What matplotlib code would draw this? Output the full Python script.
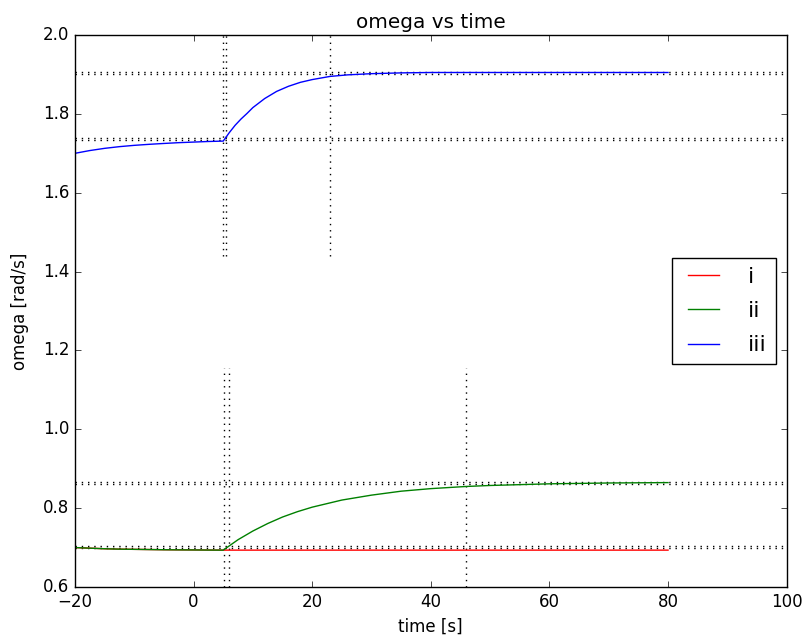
import numpy as np
import matplotlib
matplotlib.use("Agg")
import matplotlib.pyplot as plt

plt.style.use('classic')

# --- data ---
# before the step (i and ii share this part)
t_pre = [-20, -17.5, -15, -12.5, -10, -7.5, -5, -2.5, 0, 2.5, 5]
w_pre_low = [0.700, 0.6985, 0.697, 0.696, 0.6955, 0.695, 0.6945, 0.6942, 0.694, 0.6937, 0.6935]
w_pre_iii = [1.700, 1.707, 1.7126, 1.7169, 1.7202, 1.7228, 1.7250, 1.7270, 1.7285, 1.7300, 1.7310]

# after the step
t_post_i = [5, 80]
w_post_i = [0.6935, 0.6935]

t_post_ii = [5, 7.5, 10, 12.5, 15, 17.5, 20, 25, 30, 35, 40, 46, 50, 60, 70, 80]
w_post_ii = [0.6935, 0.720, 0.742, 0.761, 0.7775, 0.791, 0.8025, 0.8205, 0.833, 0.843,
             0.8495, 0.855, 0.8575, 0.8617, 0.8638, 0.8648]

t_post_iii = [5, 6, 7, 8, 9, 10, 12, 14, 16, 18, 20, 23, 26, 30, 35, 40, 50, 60, 70, 80]
w_post_iii = [1.731, 1.752, 1.771, 1.787, 1.801, 1.816, 1.839, 1.857, 1.870, 1.880,
              1.887, 1.895, 1.899, 1.902, 1.904, 1.905, 1.905, 1.905, 1.905, 1.905]

# reference (dotted) levels and times
h_levels = [1.905, 1.900, 1.739, 1.734, 0.8655, 0.8605, 0.7035, 0.6985]
v_upper_times = [5.0, 5.4, 23.0]
v_upper_span = (1.44, 2.0)
v_lower_times = [5.2, 6.0, 46.0]
v_lower_span = (0.6, 1.155)

labels = ['i', 'ii', 'iii']

fig = plt.figure(figsize=(8.06, 6.37))
ax = fig.add_axes([0.093, 0.0785, 0.883, 0.8665])

dots = (0, (1, 3.5))
for y in h_levels:
    ax.axhline(y, color='k', linestyle=dots, linewidth=1)
for x in v_upper_times:
    ax.plot([x, x], v_upper_span, color='k', linestyle=dots, linewidth=1)
for x in v_lower_times:
    ax.plot([x, x], v_lower_span, color='k', linestyle=dots, linewidth=1)

ax.plot(t_pre + t_post_i[1:], w_pre_low + w_post_i[1:], color='r', label=labels[0])
ax.plot(t_pre + t_post_ii[1:], w_pre_low + w_post_ii[1:], color='g', label=labels[1])
ax.plot(t_pre + t_post_iii[1:], w_pre_iii + w_post_iii[1:], color='b', label=labels[2])

ax.set_xlim(-20, 100)
ax.set_ylim(0.6, 2.0)
ax.set_xticks(np.arange(-20, 101, 20))
ax.set_yticks(np.arange(0.6, 2.01, 0.2))
ax.set_title('omega vs time', pad=5)
ax.set_xlabel('time [s]')
ax.set_ylabel('omega [rad/s]', labelpad=10)
ax.legend(loc='center right', fontsize=16, handlelength=2.0, handletextpad=1.0,
          labelspacing=0.65)

fig.savefig('out.png', dpi=100)
